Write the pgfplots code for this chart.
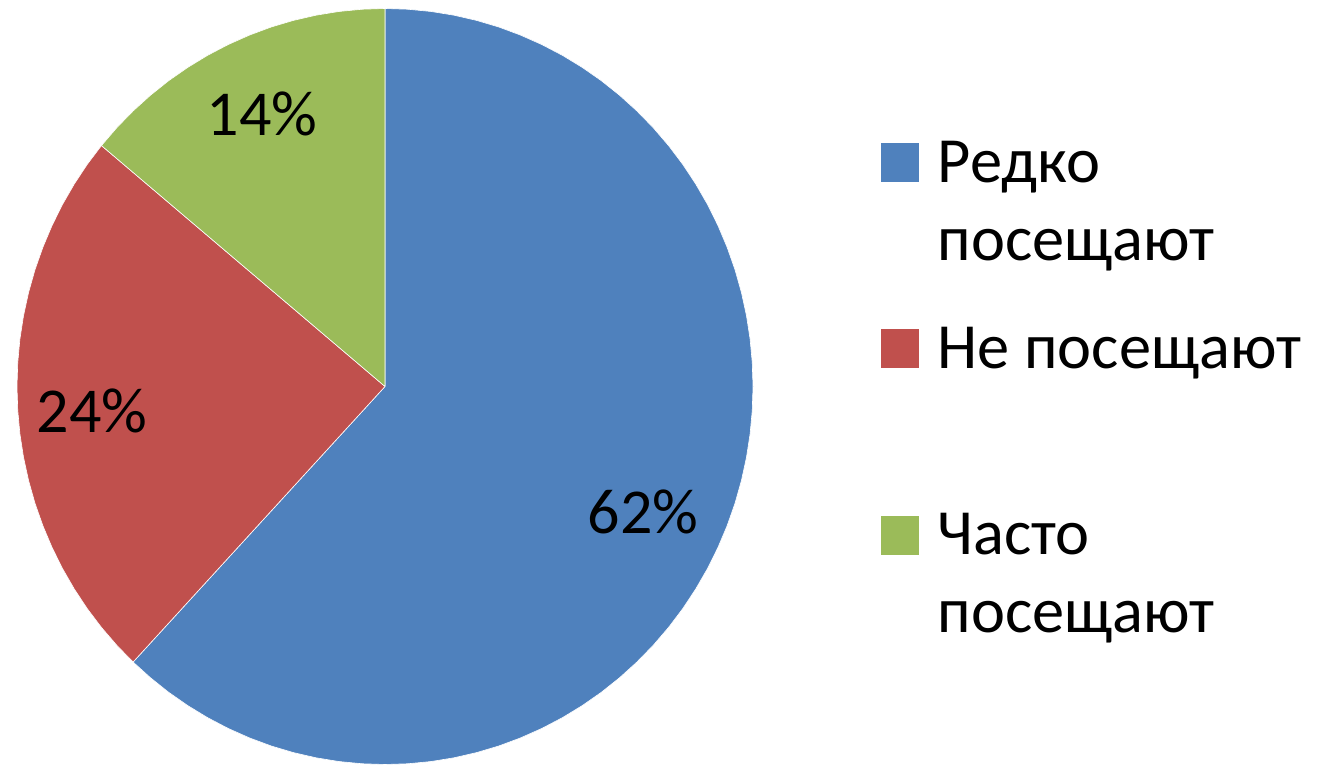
\documentclass[border=0pt]{standalone}
\usepackage{fontspec}
\setmainfont{Carlito}
\usepackage{pgfplots}
\pgfplotsset{compat=1.18}
\definecolor{pieblue}{RGB}{79,129,189}
\definecolor{piered}{RGB}{192,80,77}
\definecolor{piegreen}{RGB}{155,187,89}
\begin{document}
\fontsize{32}{39}\selectfont
\begin{tikzpicture}
\useasboundingbox (0,0) rectangle (660pt,385.5pt);
\begin{axis}[
  at={(192.5pt,192.25pt)}, anchor=origin,
  hide axis, scale only axis,
  width=368pt, height=378pt,
  xmin=-1, xmax=1, ymin=-1, ymax=1,
  data cs=polar,
  legend cell align=left,
  legend image code/.code={\fill[#1] (0pt,-11.5pt) rectangle (19.5pt,8.5pt);},
  legend style={draw=none, fill=none, inner sep=0pt, outer sep=0pt,
    at={(rel axis cs:1.1726,0.8427)}, anchor=north west,
    row sep=61pt, column sep=9pt,
    nodes={inner sep=0pt, font=\fontsize{32.2}{39}\selectfont}},
]
% Редко посещают 62%
\addplot[fill=pieblue, draw=white, line width=0.3pt] coordinates {
  (0,0) (90,1) (86.4,1) (82.8,1) (79.2,1) (75.6,1) (72,1) (68.4,1) (64.8,1)
  (61.2,1) (57.6,1) (54,1) (50.4,1) (46.8,1) (43.2,1) (39.6,1) (36,1)
  (32.4,1) (28.8,1) (25.2,1) (21.6,1) (18,1) (14.4,1) (10.8,1) (7.2,1)
  (3.6,1) (0,1) (-3.6,1) (-7.2,1) (-10.8,1) (-14.4,1) (-18,1) (-21.6,1)
  (-25.2,1) (-28.8,1) (-32.4,1) (-36,1) (-39.6,1) (-43.2,1) (-46.8,1)
  (-50.4,1) (-54,1) (-57.6,1) (-61.2,1) (-64.8,1) (-68.4,1) (-72,1)
  (-75.6,1) (-79.2,1) (-82.8,1) (-86.4,1) (-90,1) (-93.6,1) (-97.2,1)
  (-100.8,1) (-104.4,1) (-108,1) (-111.6,1) (-115.2,1) (-118.8,1)
  (-122.4,1) (-126,1) (-129.6,1) (-133.2,1) (0,0)
};
\addlegendentry{\begin{tabular}[t]{@{}l@{}}Редко\\посещают\end{tabular}}
% Не посещают 24%
\addplot[fill=piered, draw=white, line width=0.3pt] coordinates {
  (0,0) (226.8,1) (223.2,1) (219.6,1) (216,1) (212.4,1) (208.8,1) (205.2,1)
  (201.6,1) (198,1) (194.4,1) (190.8,1) (187.2,1) (183.6,1) (180,1)
  (176.4,1) (172.8,1) (169.2,1) (165.6,1) (162,1) (158.4,1) (154.8,1)
  (151.2,1) (147.6,1) (144,1) (140.4,1) (0,0)
};
\addlegendentry{\begin{tabular}[t]{@{}l@{}}Не посещают\\\mbox{}\end{tabular}}
% Часто посещают 14%
\addplot[fill=piegreen, draw=white, line width=0.3pt] coordinates {
  (0,0) (140.4,1) (136.8,1) (133.2,1) (129.6,1) (126,1) (122.4,1)
  (118.8,1) (115.2,1) (111.6,1) (108,1) (104.4,1) (100.8,1) (97.2,1)
  (93.6,1) (90,1) (0,0)
};
\addlegendentry{\begin{tabular}[t]{@{}l@{}}Часто\\посещают\end{tabular}}
\node[anchor=base] at (axis cs:-0.334,0.665) {14\%};
\node[anchor=base] at (axis cs:-0.796,-0.123) {24\%};
\node[anchor=base] at (axis cs:0.701,-0.388) {62\%};
\end{axis}
\end{tikzpicture}
\end{document}
